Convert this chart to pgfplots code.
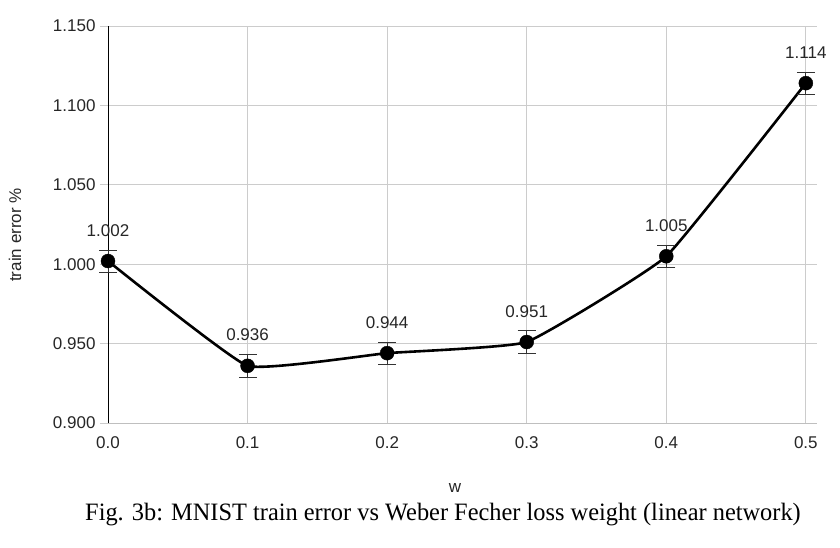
\documentclass[border=0pt]{standalone}
\usepackage{fontspec}
\setmainfont{Liberation Sans}
\newfontfamily\capfont{Liberation Serif}
\usepackage{pgfplots}
\pgfplotsset{compat=1.18}
\begin{document}
\begin{tikzpicture}[x=1pt,y=1pt]
\useasboundingbox (0,0) rectangle (840,547);
\begin{axis}[
  at={(108pt,124pt)}, anchor=south west,
  scale only axis, width=709pt, height=397pt,
  xmin=0, xmax=0.508, ymin=0.9, ymax=1.15,
  xtick={0,0.1,0.2,0.3,0.4,0.5},
  ytick={0.9,0.95,1.0,1.05,1.1,1.15},
  grid=major, grid style={draw=black!20, line width=0.8pt},
  axis x line*=bottom, axis y line*=left,
  x axis line style={-, draw=black!25, line width=0.8pt},
  y axis line style={-, draw=black, line width=1pt},
  xtick style={draw=none},
  ytick style={draw=black!20, line width=0.8pt},
  tick align=outside, major tick length=8pt,
  /pgf/number format/assume math mode=true,
  xticklabel={\pgfmathprintnumber[fixed,fixed zerofill,precision=1]{\tick}},
  yticklabel={\pgfmathprintnumber[fixed,fixed zerofill,precision=3]{\tick}},
  xticklabel style={font=\fontsize{17}{17}\selectfont, text=black!85, yshift=-2pt},
  yticklabel style={font=\fontsize{17}{17}\selectfont, text=black!85, xshift=-1pt},
  clip=false,
]
\addplot[black, line width=2.6pt, smooth, tension=0.2,
  mark=*, mark size=7pt, mark options={solid, fill=black, line width=0.4pt},
  point meta=y,
  nodes near coords={\pgfmathprintnumber[fixed,fixed zerofill,precision=3]{\pgfplotspointmeta}},
  nodes near coords style={anchor=base, yshift=25pt, font=\fontsize{17}{17}\selectfont, text=black!85},
  error bars/.cd, y dir=both, y explicit,
  error bar style={line width=0.8pt, draw=black!80},
  error mark options={line width=0.8pt, draw=black!80, mark size=9pt, rotate=90}]
coordinates {
  (0.0,1.002) +- (0,0.007)
  (0.1,0.936) +- (0,0.007)
  (0.2,0.944) +- (0,0.007)
  (0.3,0.951) +- (0,0.007)
  (0.4,1.005) +- (0,0.007)
  (0.5,1.114) +- (0,0.007)
};
\end{axis}
\node[rotate=90, font=\fontsize{17}{17}\selectfont, text=black!85] at (15,312) {train error \%};
\node[font=\fontsize{17}{17}\selectfont, text=black!85] at (455,59) {w};
\node[font=\capfont\fontsize{25}{25}\selectfont, xscale=0.975] at (443,32) {Fig. 3b: MNIST train error vs Weber Fecher loss weight (linear network)};
\end{tikzpicture}
\end{document}
